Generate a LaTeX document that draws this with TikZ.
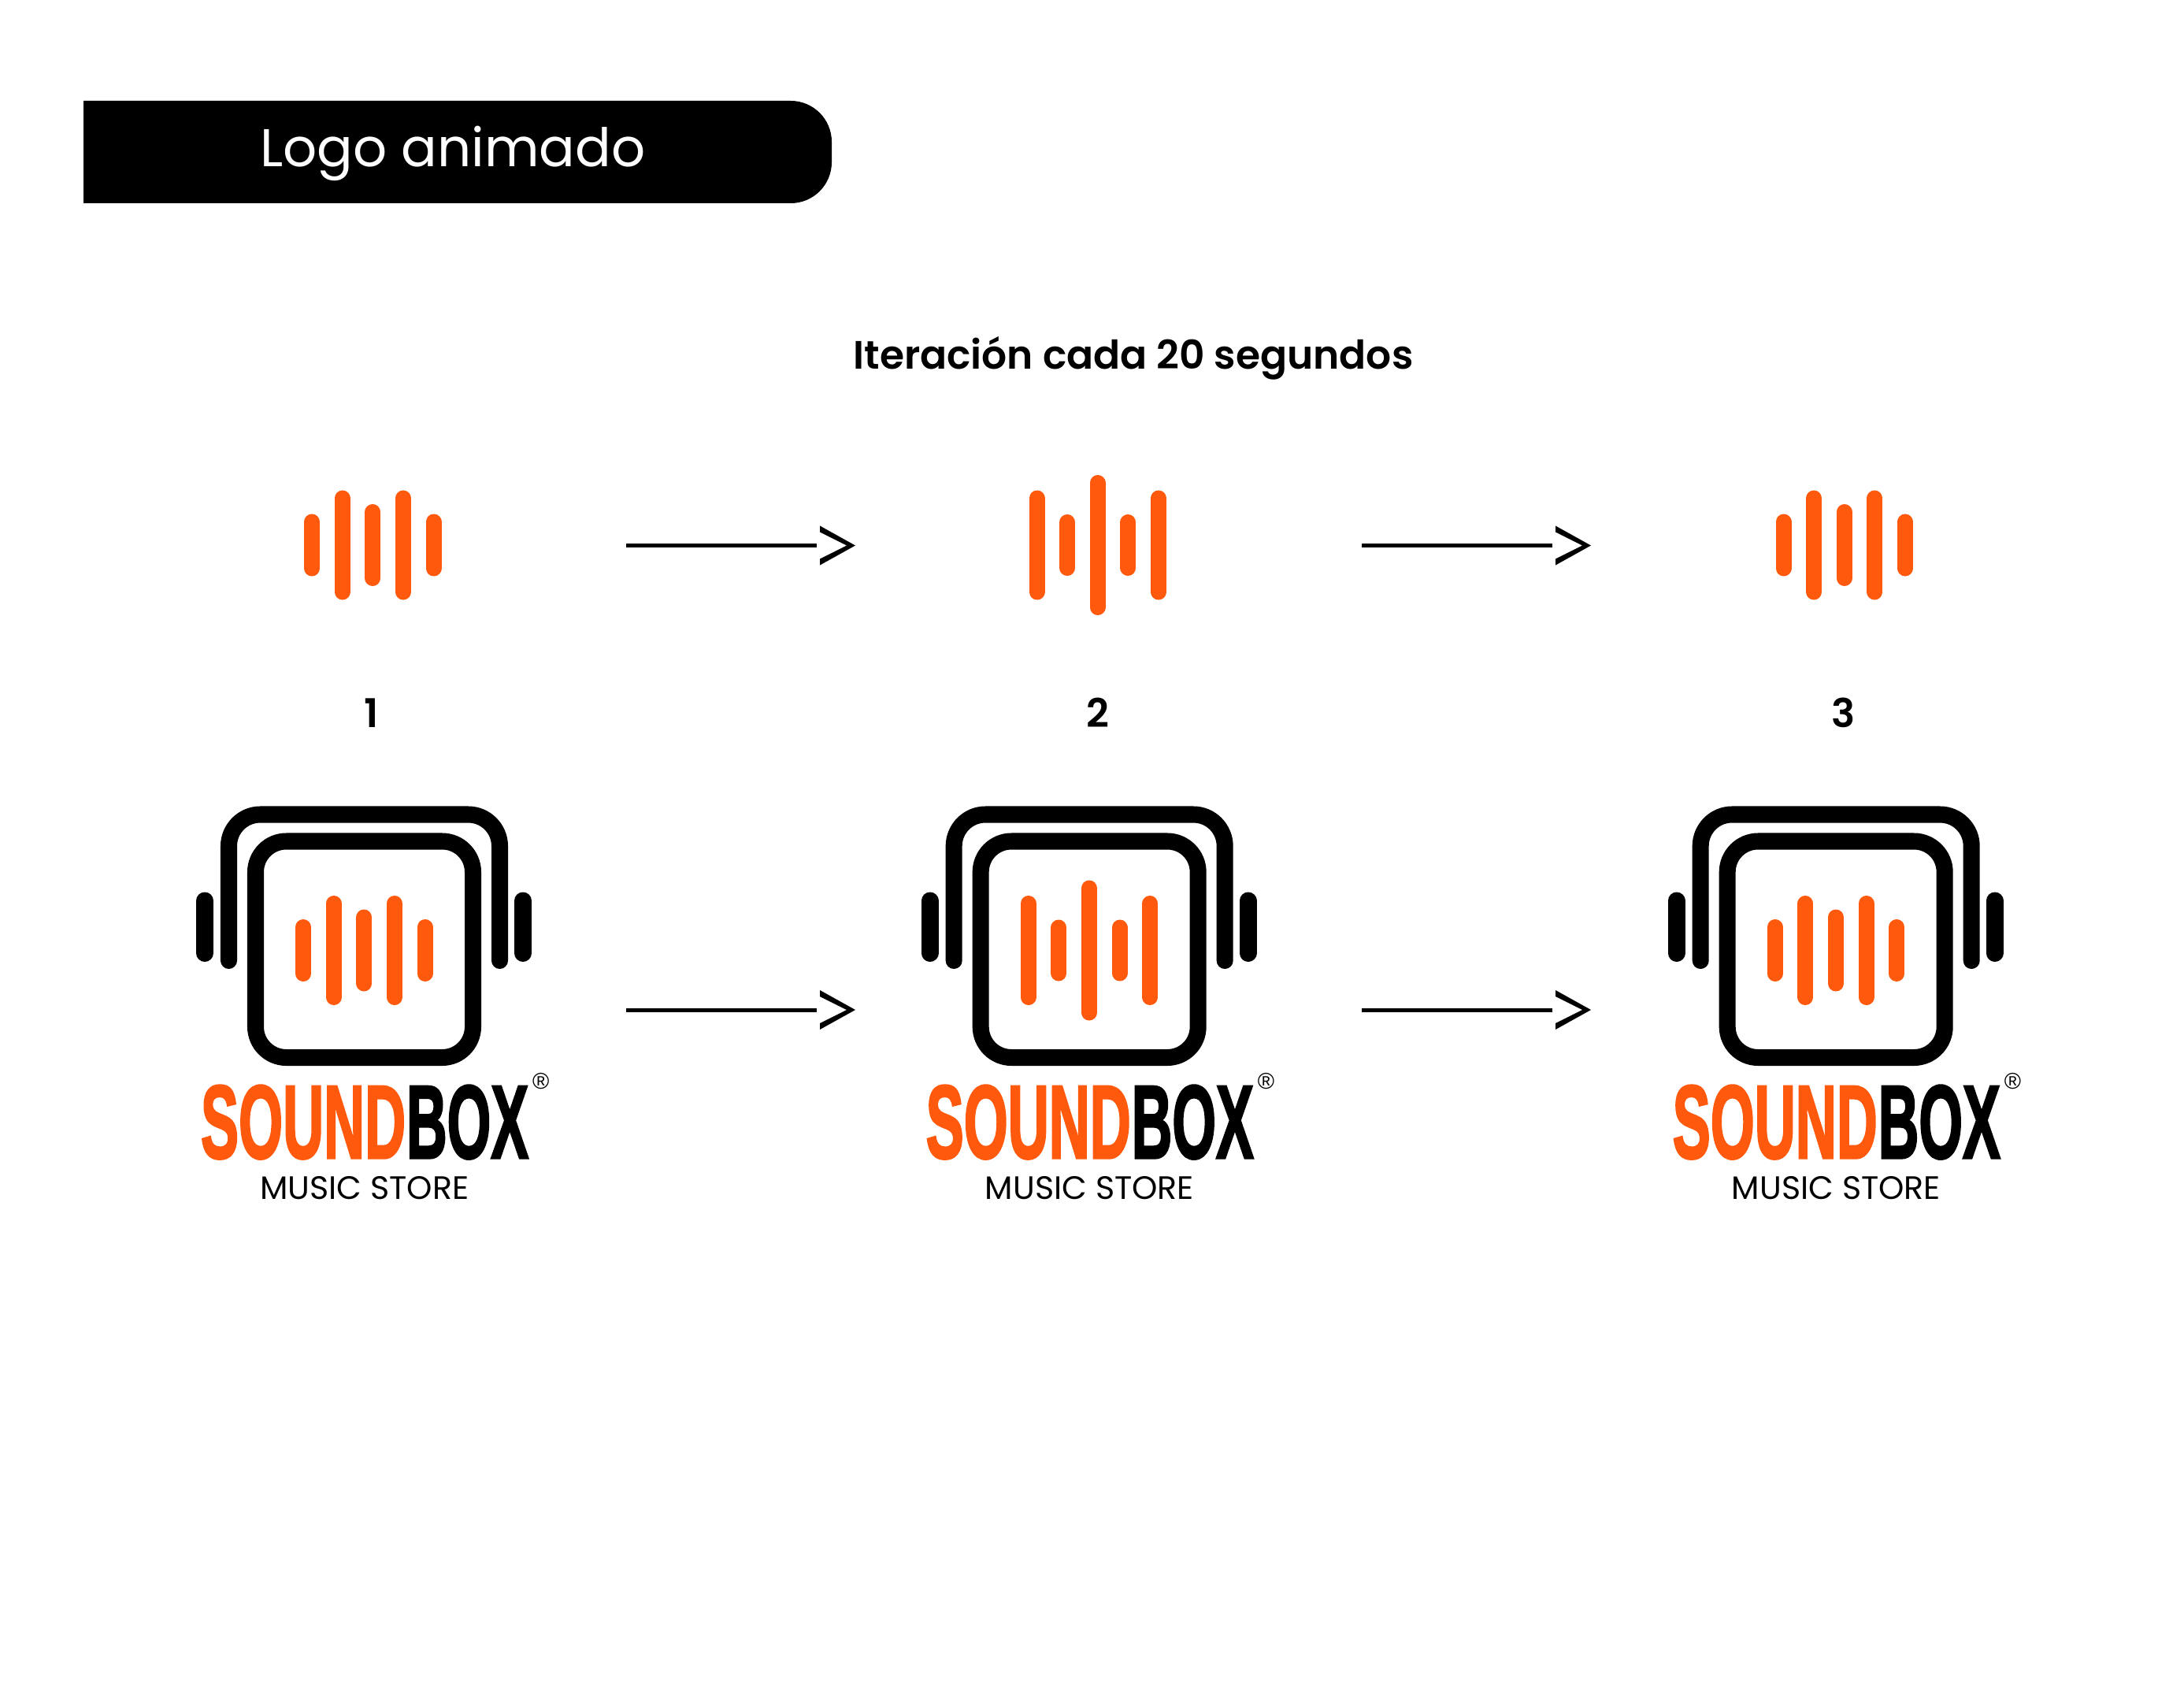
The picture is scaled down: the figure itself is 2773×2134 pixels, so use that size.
\documentclass[tikz,border=0pt]{standalone}
\usepackage{fontspec}
\usepackage{graphicx}
\setmainfont{Poppins}
\newfontfamily\semifont{Poppins SemiBold}
\newfontfamily\marcafont[FakeBold=2.5]{Liberation Sans Bold}
\newfontfamily\regfont{Liberation Sans}
\definecolor{naranja}{HTML}{FF590D}
\tikzset{
  barra/.style={draw=naranja,line width=2mm,line cap=round},
  asa/.style={line width=2.1mm,line cap=round,rounded corners=4mm},
  pieza/.style={line width=2.2mm,line cap=round},
  linea/.style={line width=0.5mm},
}
\begin{document}
\begin{tikzpicture}[x=0.01cm,y=-0.01cm,inner sep=0pt,outer sep=0pt]
  \useasboundingbox (0,0) rectangle (2773,2134);
  % cabecera
  \fill (106,258) -- (106,128) [rounded corners=5.2mm] -- (1056,128) -- (1056,258) [sharp corners] -- cycle;
  \node[anchor=base,text=white,font=\fontsize{19.2}{23}\selectfont] (titulo) at (575,212) {Logo animado};
  \node[anchor=base,font=\semifont\fontsize{14.3}{17}\selectfont] (iteracion) at (1439,469) {Iteración cada 20 segundos};
  % ondas sueltas
  \foreach \n/\x/\alt/\tx in {1/473.3/{29.5,59.5,42,59.5,29.5}/472,2/1393.7/{59.5,29,79,29,59.5}/1393.7,3/2341.7/{29.5,59.5,42,59.5,29.5}/2341}{
    \foreach \h [count=\i] in \alt
      \draw[barra] ({\x+(\i-3)*38.6},{692-\h}) -- ({\x+(\i-3)*38.6},{692+\h});
    \node[anchor=base,font=\semifont\fontsize{14.3}{17}\selectfont] (num\n) at (\tx,923) {\n};
  }
  % logos
  \foreach \n/\dx/\alt in {1/0/{29.5,59.5,42,59.5,29.5},2/920.67/{59.5,29,79,29,59.5},3/1868.67/{29.5,59.5,42,59.5,29.5}}{
    \begin{scope}[xshift=\dx*0.01cm]
      \draw[asa] (290.5,1219.5) -- (290.5,1034) -- (634.5,1034) -- (634.5,1219.5);
      \draw[line width=2.1mm,rounded corners=3.9mm] (324.5,1068) rectangle (600.5,1342.5);
      \draw[pieza] (260,1143.5) -- (260,1210);
      \draw[pieza] (664,1143.5) -- (664,1210);
      \foreach \h [count=\i] in \alt
        \draw[barra] ({462.3+(\i-3)*38.6},{1206.5-\h}) -- ({462.3+(\i-3)*38.6},{1206.5+\h});
      \node[anchor=base west,text=naranja] (sound\n) at (255,1470) {\resizebox{2.6cm}{0.92cm}{\marcafont SOUND}};
      \node[anchor=base west] (box\n) at (516,1470) {\resizebox{1.55cm}{0.92cm}{\marcafont BOX}};
      \node[font=\regfont\fontsize{8.2}{10}\selectfont] (reg\n) at (686.7,1373) {®};
      \node[anchor=base,font=\fontsize{11.7}{14}\selectfont] (store\n) at (462.7,1522) {MUSIC STORE};
    \end{scope}
  }
  % flechas
  \foreach \n/\x/\y in {1/795/692.5,2/1729/692.5,3/795/1282,4/1729/1282}{
    \coordinate (ini\n) at (\x,\y);
    \coordinate (fin\n) at (\x+242,\y);
    \draw[linea] (ini\n) -- (fin\n);
    \fill (fin\n) ++(4,-25) -- ++(45,25) -- ++(-45,25) -- ++(0,-8) -- ++(34,-17) -- ++(-34,-17) -- cycle;
  }
\end{tikzpicture}
\end{document}
